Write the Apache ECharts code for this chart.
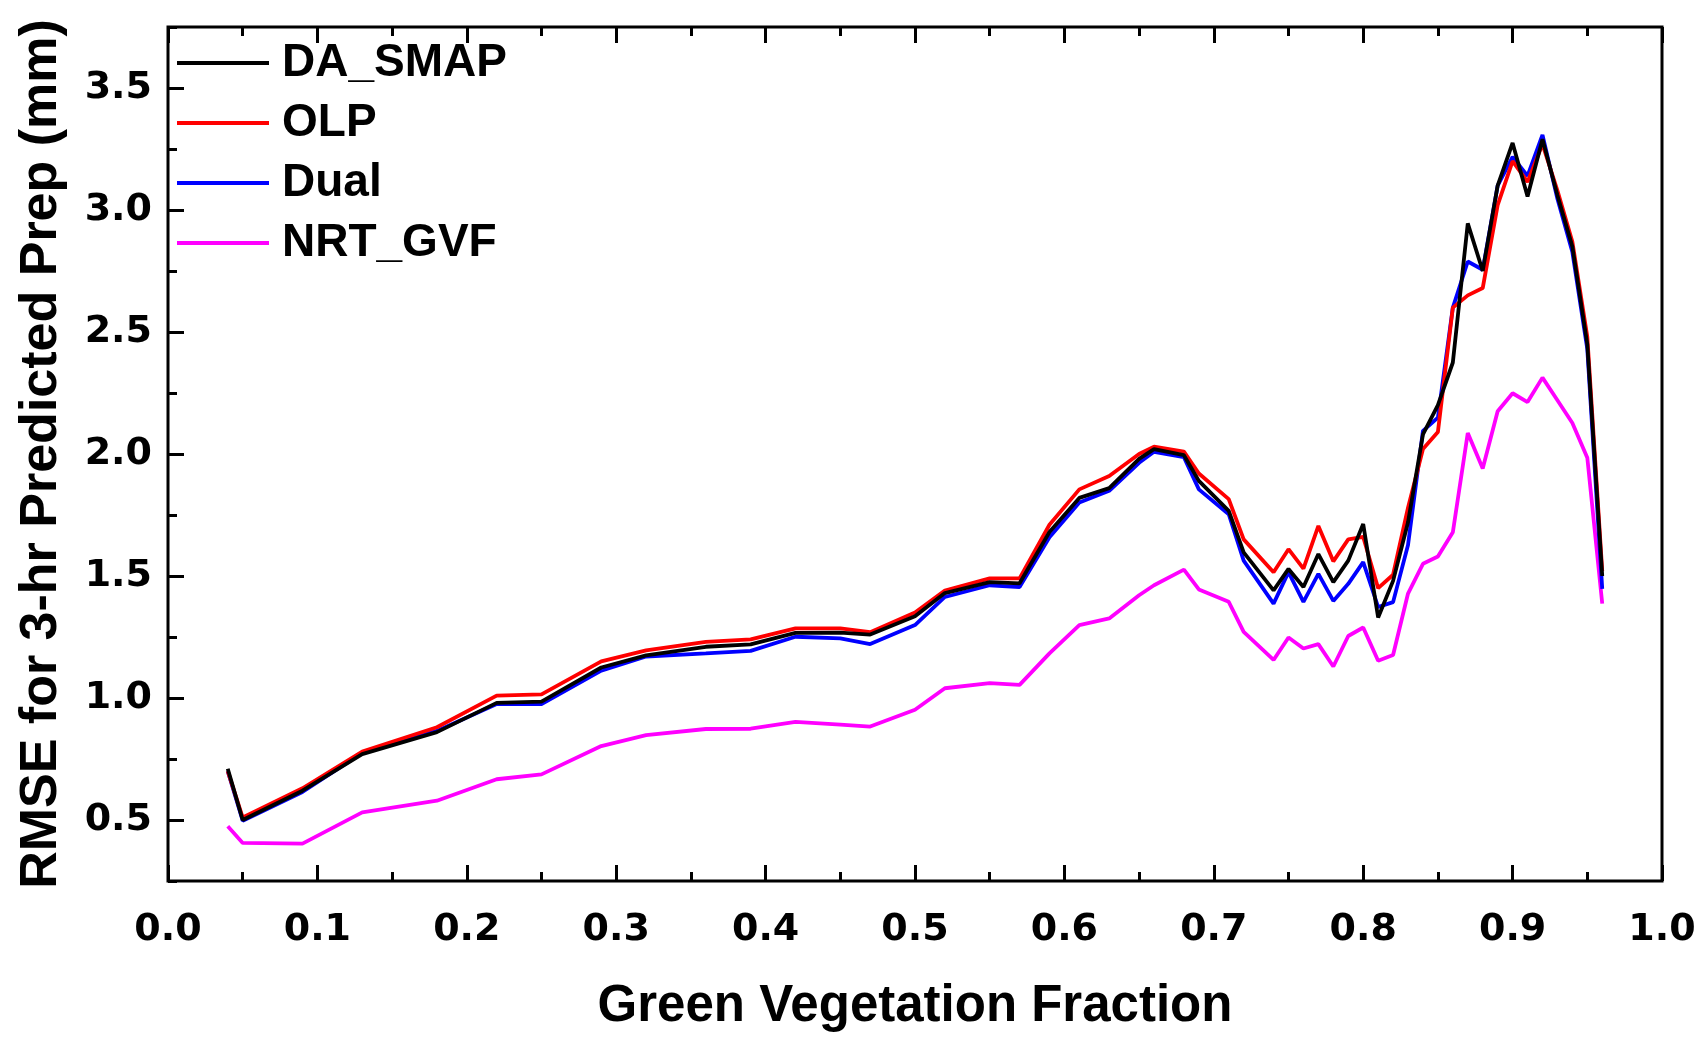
<!DOCTYPE html>
<html>
<head>
<meta charset="utf-8">
<script src="https://cdn.jsdelivr.net/npm/echarts@6/dist/echarts.min.js"></script>
<style>
html,body{margin:0;padding:0;background:#fff;}
#chart{width:1703px;height:1037px;background:#fff;}
</style>
</head>
<body>
<div id="chart"></div>
<script>
const gvf = [0.04,0.05,0.09,0.13,0.18,0.22,0.25,0.29,0.32,0.36,0.39,0.42,0.45,0.47,0.50,0.52,0.55,0.57,0.59,0.61,0.63,0.65,0.66,0.68,0.69,0.71,0.72,0.74,0.75,0.76,0.77,0.78,0.79,0.80,0.81,0.82,0.83,0.84,0.85,0.86,0.87,0.88,0.89,0.90,0.91,0.92,0.93,0.94,0.95,0.96];

const daSmap = [0.71,0.50,0.62,0.77,0.86,0.98,0.985,1.125,1.175,1.21,1.22,1.267,1.268,1.26,1.335,1.43,1.475,1.47,1.68,1.82,1.86,1.98,2.02,1.995,1.89,1.767,1.597,1.441,1.529,1.455,1.59,1.475,1.563,1.713,1.33,1.48,1.72,2.08,2.20,2.375,2.945,2.75,3.10,3.275,3.055,3.29,3.06,2.85,2.45,1.50];

const olp = [0.70,0.51,0.63,0.78,0.88,1.01,1.015,1.15,1.195,1.23,1.24,1.285,1.285,1.27,1.35,1.44,1.49,1.49,1.71,1.855,1.91,2.00,2.03,2.01,1.92,1.815,1.65,1.515,1.61,1.53,1.705,1.56,1.65,1.66,1.45,1.505,1.78,2.02,2.09,2.60,2.65,2.68,3.02,3.20,3.115,3.27,3.08,2.87,2.48,1.52];

const dual = [0.70,0.497,0.615,0.775,0.865,0.975,0.975,1.112,1.17,1.183,1.193,1.251,1.244,1.221,1.299,1.414,1.462,1.455,1.659,1.801,1.849,1.964,2.009,1.987,1.855,1.753,1.563,1.387,1.516,1.394,1.509,1.398,1.468,1.557,1.373,1.393,1.627,2.095,2.149,2.60,2.789,2.755,3.10,3.218,3.14,3.308,3.046,2.828,2.43,1.447];

const nrtGvf = [0.474,0.406,0.403,0.531,0.579,0.667,0.687,0.803,0.848,0.873,0.874,0.902,0.891,0.883,0.952,1.04,1.061,1.054,1.183,1.299,1.326,1.421,1.462,1.526,1.445,1.394,1.271,1.156,1.248,1.203,1.221,1.129,1.254,1.289,1.153,1.176,1.428,1.55,1.58,1.679,2.086,1.941,2.175,2.249,2.213,2.313,2.22,2.127,1.985,1.387];

const yMajorTicks = [0.5,1.0,1.5,2.0,2.5,3.0,3.5];
const yMinorTicks = [0.25,0.75,1.25,1.75,2.25,2.75,3.25,3.75];

const seriesNames = ['DA_SMAP','OLP','Dual','NRT_GVF'];
const seriesColors = ['#000000','#ff0000','#0000ff','#ff00ff'];
const seriesValues = [daSmap, olp, dual, nrtGvf];

const FONT = 'Liberation Sans, Arial, sans-serif';
const TICKFONT = 'DejaVu Sans, Liberation Sans, sans-serif';
const chart = echarts.init(document.getElementById('chart'));

const series = seriesNames.map((n, i) => ({
  name: n,
  type: 'line',
  xAxisIndex: 0,
  yAxisIndex: 0,
  symbol: 'none',
  data: gvf.map((x, j) => [x, seriesValues[i][j]]),
  lineStyle: { color: seriesColors[i], width: 3.8 },
  itemStyle: { color: seriesColors[i] },
  z: 10 - i
}));

function xTickAxis(pos) {
  return {
    type: 'value', position: pos, min: 0, max: 1, interval: 0.1, z: 30,
    axisLine: { show: false, onZero: false },
    axisTick: { show: true, inside: true, length: 16, lineStyle: { color: '#000', width: 3 } },
    minorTick: { show: true, splitNumber: 2, length: 9, lineStyle: { color: '#000', width: 3 } },
    splitLine: { show: false },
    axisLabel: { show: false }
  };
}

chart.setOption({
  animation: false,
  grid: { left: 168, right: 41, top: 27, bottom: 151, show: true, borderColor: '#000', borderWidth: 3 },
  legend: {
    orient: 'vertical',
    left: 172,
    top: 35,
    itemWidth: 92,
    itemHeight: 20,
    itemGap: 14,
    data: seriesNames,
    textStyle: { fontFamily: FONT, fontWeight: 'bold', fontSize: 46, color: '#000', lineHeight: 46, padding: [0, 0, 0, 8] },
    icon: 'path://M0,9 L92,9 L92,13 L0,13 Z'
  },
  xAxis: [
    {
      type: 'value', position: 'bottom', min: 0, max: 1, interval: 0.1,
      name: 'Green Vegetation Fraction', nameLocation: 'middle', nameGap: 100,
      nameTextStyle: { fontFamily: FONT, fontWeight: 'bold', fontSize: 51, color: '#000' },
      axisLine: { show: false, onZero: false },
      axisTick: { show: false },
      splitLine: { show: false },
      axisLabel: { margin: 30, fontFamily: TICKFONT, fontWeight: 'bold', fontSize: 38, color: '#000', formatter: v => v.toFixed(1) }
    },
    xTickAxis('bottom'),
    xTickAxis('top')
  ],
  yAxis: [
    {
      type: 'value', position: 'left', min: 0.25, max: 3.75,
      name: 'RMSE for 3-hr Predicted Prep (mm)', nameLocation: 'middle', nameGap: 100, nameRotate: 90,
      nameTextStyle: { fontFamily: FONT, fontWeight: 'bold', fontSize: 52, color: '#000' },
      axisLine: { show: false, onZero: false },
      axisTick: { show: false },
      splitLine: { show: false },
      axisLabel: { margin: 16, fontFamily: TICKFONT, fontWeight: 'bold', fontSize: 38, color: '#000', customValues: yMajorTicks, formatter: v => v.toFixed(1) }
    },
    {
      type: 'value', position: 'left', min: 0.25, max: 3.75, z: 30,
      axisLine: { show: false, onZero: false },
      axisTick: { show: true, inside: true, length: 16, customValues: yMajorTicks, lineStyle: { color: '#000', width: 3 } },
      splitLine: { show: false },
      axisLabel: { show: false }
    },
    {
      type: 'value', position: 'left', min: 0.25, max: 3.75, z: 30,
      axisLine: { show: false, onZero: false },
      axisTick: { show: true, inside: true, length: 9, customValues: yMinorTicks, lineStyle: { color: '#000', width: 3 } },
      splitLine: { show: false },
      axisLabel: { show: false }
    }
  ],
  series: series
});
</script>
</body>
</html>
